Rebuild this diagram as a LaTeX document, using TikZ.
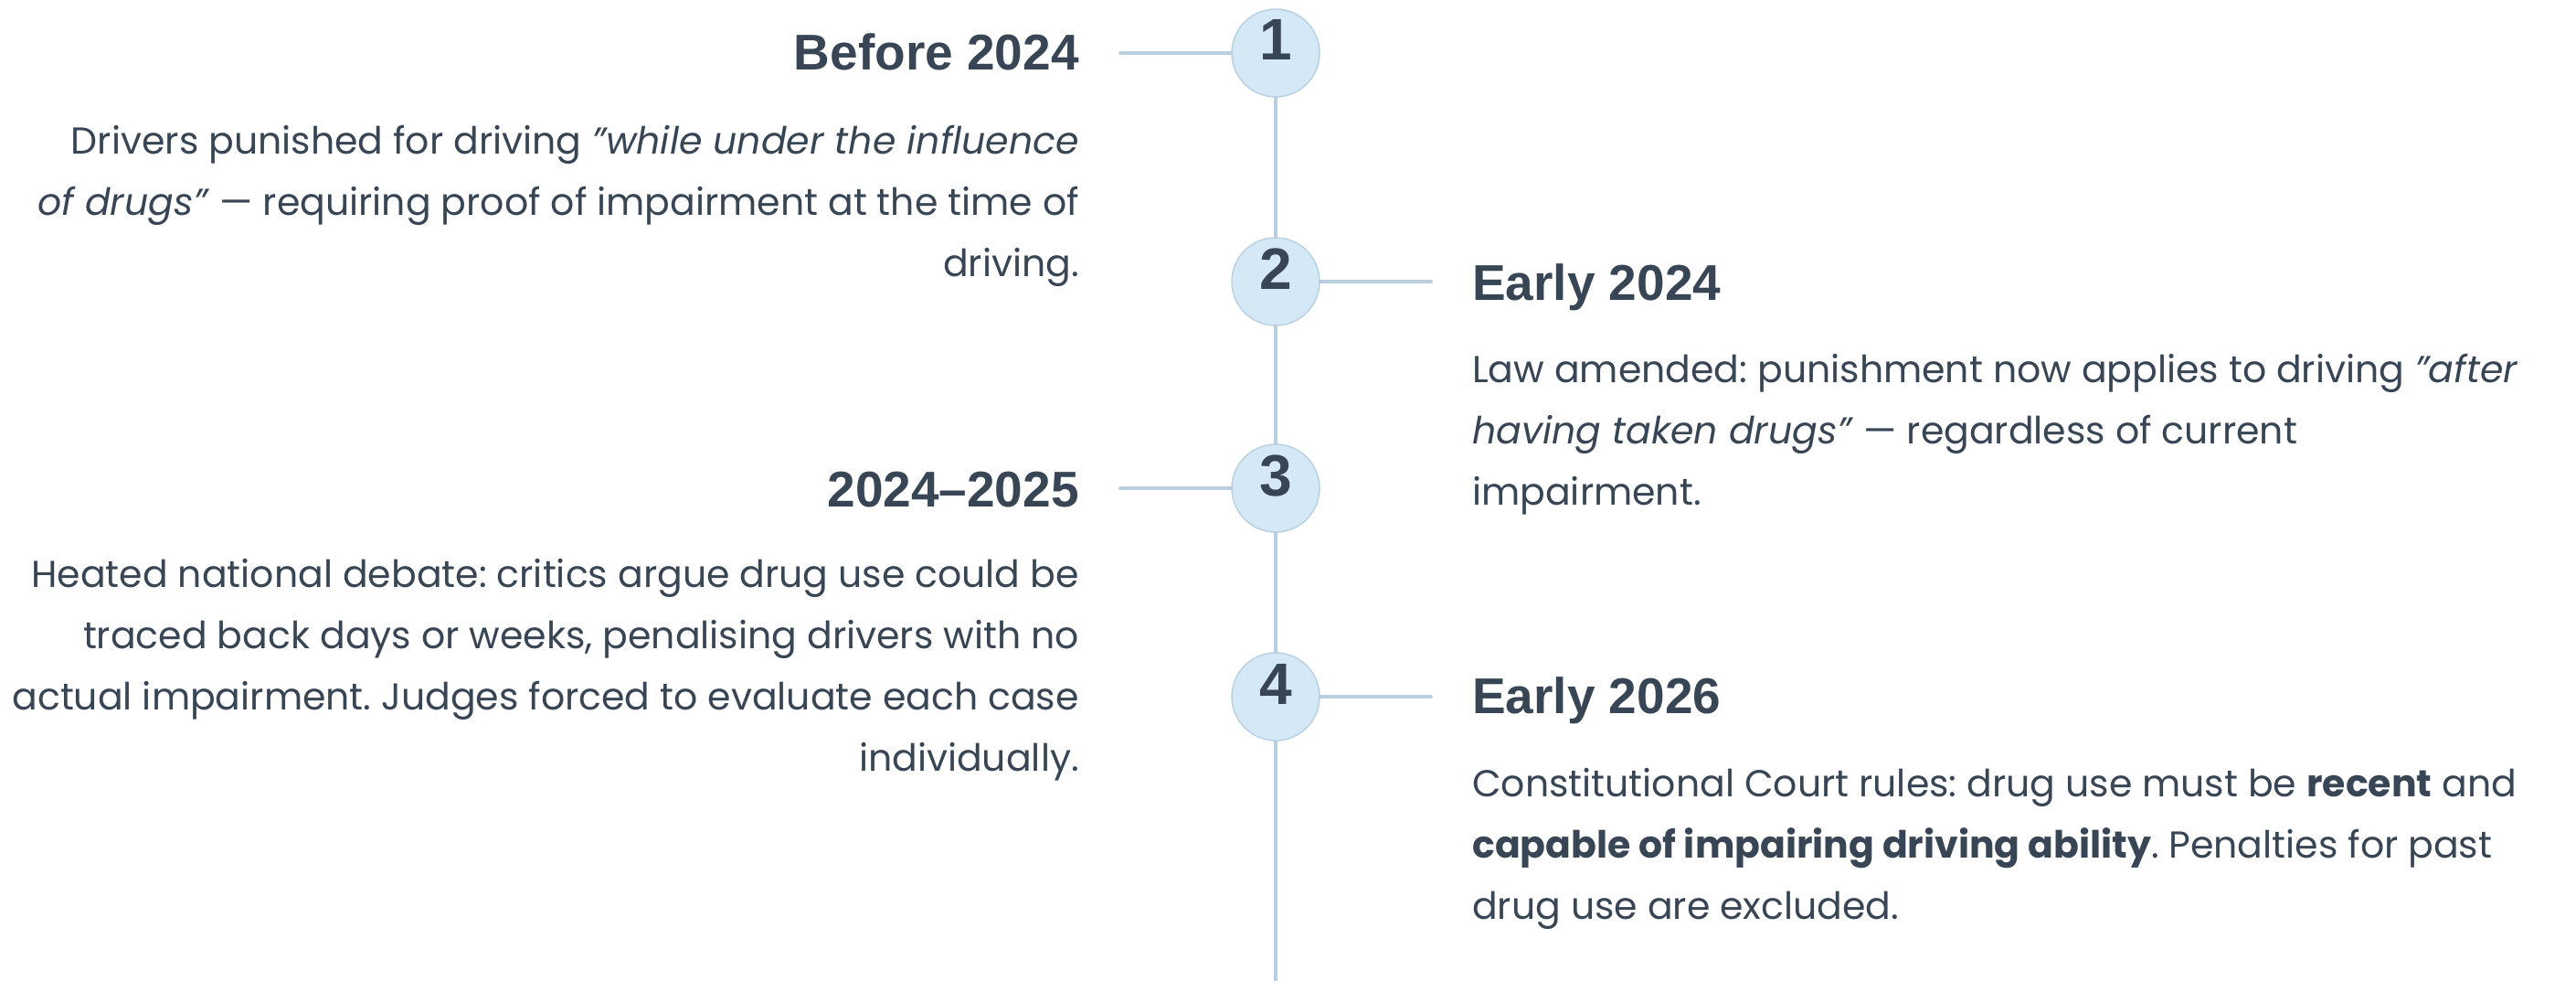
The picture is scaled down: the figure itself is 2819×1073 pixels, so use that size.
\documentclass[tikz,border=0pt]{standalone}
\usepackage{fontspec}
\setmainfont{Poppins}
\newfontfamily\headfont{Liberation Sans}
\usetikzlibrary{positioning}
\frenchspacing
\definecolor{ink}{RGB}{55,69,84}
\definecolor{rail}{RGB}{185,207,223}
\definecolor{dotfill}{RGB}{212,232,246}
\definecolor{dotline}{RGB}{186,209,226}
\tikzset{
	dot/.style={circle, draw=dotline, line width=1.5pt, fill=dotfill, minimum size=96pt, inner sep=0pt,
		text=ink, font=\headfont\bfseries\fontsize{64}{64}\selectfont, text height=46pt, text depth=30pt},
	year/.style={inner sep=0pt, text=ink, font=\headfont\bfseries\fontsize{55}{60}\selectfont},
	blurb/.style={inner sep=0pt, text=ink, font=\fontsize{41}{67}\selectfont},
	railline/.style={draw=rail, line width=4pt, line cap=round}
}
\begin{document}
\begin{tikzpicture}[x=1pt, y=-1pt]
			\useasboundingbox (0,0) rectangle (2819,1073);
			\node[dot] (v1) at (1396,  58)	{1};
			\node[dot] (v2) at (1396, 308)	{2};
			\node[dot] (v3) at (1396, 534)	{3};
			\node[dot] (v4) at (1396, 762)	{4};
			\coordinate (c1) at (1226,  58);
			\coordinate (c2) at (1566, 308);
			\coordinate (c3) at (1226, 534);
			\coordinate (c4) at (1566, 762);
			\coordinate (tail) at (1396, 1073);

			\def\rails {v1/v2, v2/v3, v3/v4, v4/tail, c1/v1, v2/c2, c3/v3, v4/c4}  % rail pieces
			\foreach \u\v in \rails
			{	\draw[railline] (\u) -- (\v);
			}

			% left side (blurbs sit on their last line)
			\node[year, anchor=base east] (t1) at (1181,  77) {Before 2024};
			\node[blurb, anchor=base east, align=right] (b1) at (1181, 302)
				{Drivers punished for driving \textit{"while under the influence}\\
				\textit{of drugs"} — requiring proof of impairment at the time of\\
				driving.};
			\node[year, anchor=base east] (t3) at (1181, 554) {2024–2025};
			\node[blurb, anchor=base east, align=right] (b3) at (1181, 843)
				{Heated national debate: critics argue drug use could be\\
				traced back days or weeks, penalising drivers with no\\
				actual impairment. Judges forced to evaluate each case\\
				individually.};

			% right side
			\node[year, anchor=base west] (t2) at (1611, 328) {Early 2024};
			\node[blurb, anchor=base west, align=left] (b2) at (1611, 552)
				{Law amended: punishment now applies to driving \textit{"after}\\
				\textit{having taken drugs"} — regardless of current\\
				impairment.};
			\node[year, anchor=base west] (t4) at (1611, 780) {Early 2026};
			\node[blurb, anchor=base west, align=left] (b4) at (1611, 1005)
				{Constitutional Court rules: drug use must be \textbf{recent} and\\
				\textbf{capable of impairing driving ability}. Penalties for past\\
				drug use are excluded.};
		\end{tikzpicture}
\end{document}
